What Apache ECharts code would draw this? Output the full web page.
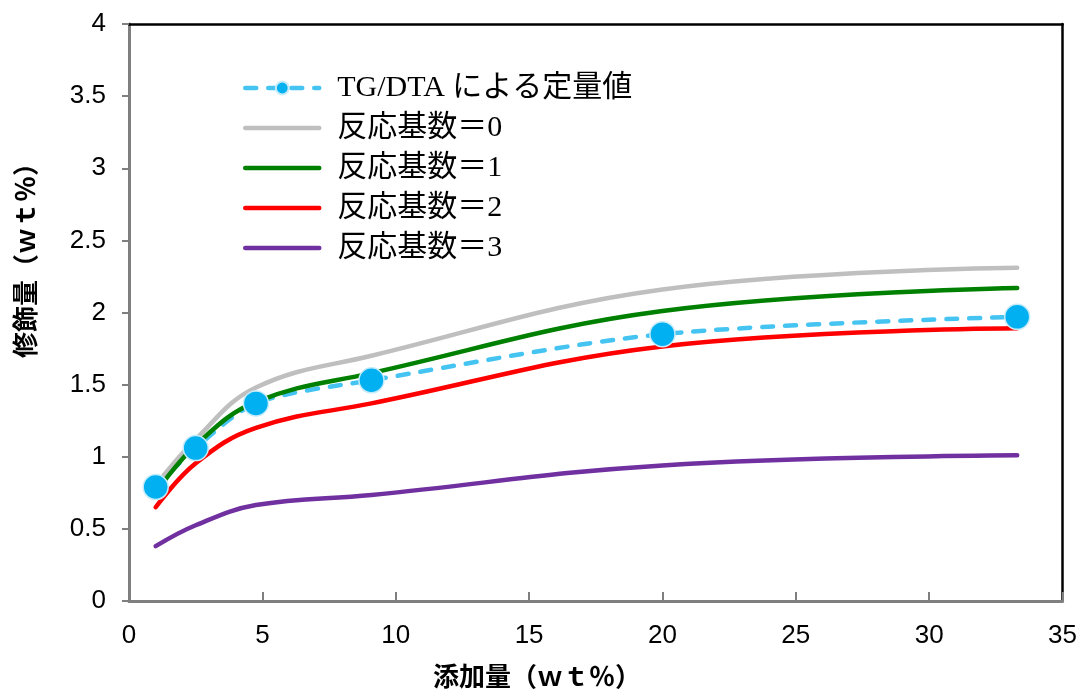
<!DOCTYPE html>
<html><head><meta charset="utf-8">
<script src="https://cdn.jsdelivr.net/npm/echarts@6/dist/echarts.min.js"></script>
<style>html,body{margin:0;padding:0;background:#fff}#c{width:1080px;height:690px}</style>
</head><body><div id="c"></div>
<script>
const xVals = [1, 2.5, 4.76, 9.09, 20, 33.3];
const tgData = [0.79, 1.06, 1.37, 1.53, 1.85, 1.97];
const r0 = [0.80, 1.12, 1.48, 1.70, 2.16, 2.31];
const r1 = [0.75, 1.08, 1.38, 1.58, 2.01, 2.17];
const r2 = [0.65, 0.955, 1.20, 1.37, 1.765, 1.89];
const r3 = [0.38, 0.525, 0.665, 0.735, 0.94, 1.01];
const seriesNames = ['TG/DTA による定量値', '反応基数＝0', '反応基数＝1', '反応基数＝2', '反応基数＝3'];
const xTitle = '添加量（ｗｔ％）';
const yTitle = '修飾量（ｗｔ％）';

const pair = arr => xVals.map((x, i) => [x, arr[i]]);
const chart = echarts.init(document.getElementById('c'));
const serif = "'Liberation Serif', 'Noto Sans CJK JP', serif";
const sans = "'Liberation Sans', Arial, sans-serif";
const lineSeries = (name, arr, color) => ({
  name, type: 'line', data: pair(arr), smooth: 0.4, showSymbol: false, symbol: 'none',
  lineStyle: { color, width: 4.5, cap: 'round' }, itemStyle: { color }
});
chart.setOption({
  animation: false,
  grid: { left: 129, right: 16, top: 24, bottom: 89 },
  legend: {
    left: 243, top: 73, padding: 0, orient: 'vertical', itemWidth: 74, itemHeight: 16, itemGap: 10,
    lineStyle: { width: 4.5, cap: 'round' },
    textStyle: { fontFamily: serif, fontSize: 30, color: '#000', lineHeight: 30, padding: [0, 0, 0, 13] },
    data: seriesNames.map((n, i) => i === 0 ? { name: n } :
      { name: n, itemStyle: { color: 'rgba(0,0,0,0)', borderWidth: 0, opacity: 0 } })
  },
  xAxis: [{
    type: 'value', min: 0, max: 35, interval: 5,
    axisLine: { lineStyle: { color: '#7f7f7f', width: 3 } },
    axisTick: { inside: true, length: 9, lineStyle: { color: '#7f7f7f', width: 2 } },
    axisLabel: { fontFamily: sans, fontSize: 26, color: '#000', margin: 22 },
    splitLine: { show: false }
  }, {
    type: 'value', min: 0, max: 35, position: 'top',
    axisLine: { show: true, onZero: false, lineStyle: { color: '#000', width: 2.5 } },
    axisTick: { show: false }, axisLabel: { show: false }, splitLine: { show: false }
  }],
  yAxis: [{
    type: 'value', min: 0, max: 4, interval: 0.5,
    axisLine: { show: true, lineStyle: { color: '#7f7f7f', width: 3 } },
    axisTick: { show: true, length: 7, lineStyle: { color: '#7f7f7f', width: 2 } },
    axisLabel: { fontFamily: sans, fontSize: 26, color: '#000', margin: 23 },
    splitLine: { show: false }
  }, {
    type: 'value', min: 0, max: 4, position: 'right',
    axisLine: { show: true, onZero: false, lineStyle: { color: '#000', width: 2.5 } },
    axisTick: { show: false }, axisLabel: { show: false }, splitLine: { show: false }
  }],
  graphic: [
    { type: 'text', left: 433, top: 663, style: { text: xTitle, font: "bold 26px 'Noto Sans CJK JP', sans-serif", fill: '#000' } },
    { type: 'text', x: 12, y: 358, rotation: Math.PI / 2, style: { text: yTitle, font: "bold 26px 'Noto Sans CJK JP', sans-serif", fill: '#000' } }
  ],
  series: [
    {
      name: seriesNames[0], type: 'line', data: pair(tgData), smooth: 0.3,
      symbol: 'circle', symbolSize: 25,
      itemStyle: { color: '#00B0F0', borderColor: '#C6EBF9', borderWidth: 1.5 },
      lineStyle: { color: '#45C4F2', width: 4.5, type: [11, 12], cap: 'round' }
    },
    lineSeries(seriesNames[1], r0, '#BFBFBF'),
    lineSeries(seriesNames[2], r1, '#008000'),
    lineSeries(seriesNames[3], r2, '#FF0000'),
    lineSeries(seriesNames[4], r3, '#7030A0')
  ]
});
</script></body></html>
